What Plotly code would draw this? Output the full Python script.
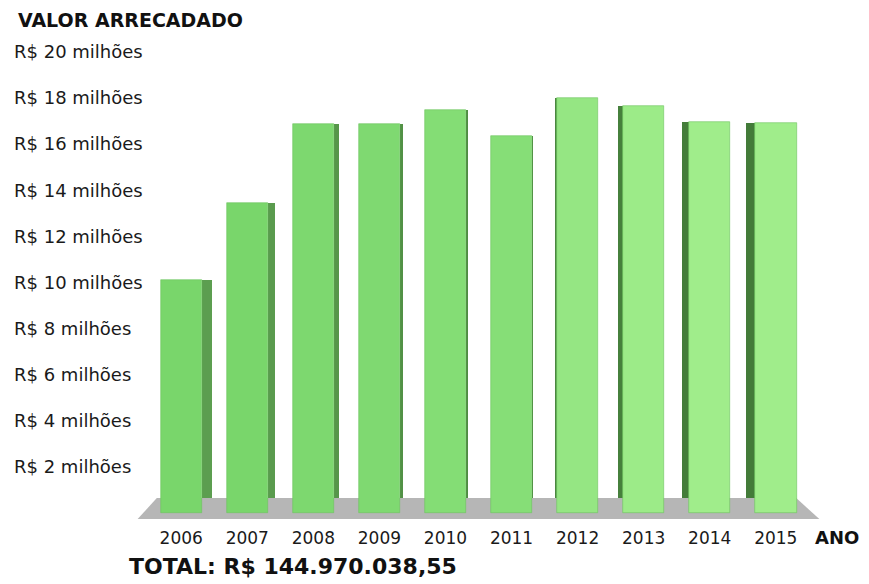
import plotly.graph_objects as go

# ---- data ----
anos = ["2006", "2007", "2008", "2009", "2010", "2011", "2012", "2013", "2014", "2015"]
valores = [10.1, 13.45, 16.85, 16.85, 17.45, 16.35, 18.0, 17.65, 16.95, 16.9]  # R$ milhões
tick_vals = [20, 18, 16, 14, 12, 10, 8, 6, 4, 2]
tick_text = ["R$ 20 milhões", "R$ 18 milhões", "R$ 16 milhões", "R$ 14 milhões",
             "R$ 12 milhões", "R$ 10 milhões", "R$ 8 milhões", "R$ 6 milhões",
             "R$ 4 milhões", "R$ 2 milhões"]
titulo = "VALOR ARRECADADO"
eixo_x = "ANO"
total = "TOTAL: R$ 144.970.038,55"

# ---- styling ----
front_colors = ["#79d66b", "#79d66b", "#7dd86f", "#7fd971", "#84dd75",
                "#86de77", "#95e683", "#9ceb88", "#a0ed8b", "#a0ed8b"]
side_colors = ["#5c9e50", "#5a9b4e", "#56964a", "#529146", "#4f8d43",
               "#4f8d43", "#4a8640", "#46803c", "#447d3a", "#437b39"]
side_w = [0.15, 0.105, 0.075, 0.045, 0.015, 0.0, 0.025, 0.075, 0.105, 0.135]
side_right = [True, True, True, True, True, True, False, False, False, False]
front_w = 0.628
floor_top = 0.65
floor_bot = -0.26

xs = list(range(len(anos)))
side_off = [front_w / 2 if r else -front_w / 2 - w for r, w in zip(side_right, side_w)]
side_h = [v - floor_top for v in valores]

fig = go.Figure()
fig.add_trace(go.Bar(
    x=xs, y=side_h, base=[floor_top] * len(xs), width=side_w, offset=side_off,
    marker=dict(color=side_colors, line=dict(width=0)), hoverinfo="skip", showlegend=False))
fig.add_trace(go.Bar(
    x=xs, y=valores, width=front_w,
    marker=dict(color=front_colors, line=dict(width=0.6, color="#6cc35e")),
    showlegend=False, hovertemplate="%{y} milhões<extra></extra>"))

# floor (grey parallelogram)
fig.add_shape(type="path", xref="x", yref="y", layer="below",
              path=f"M -0.37 {floor_top} L 9.31 {floor_top} L 9.66 {floor_bot} L -0.66 {floor_bot} Z",
              fillcolor="#b6b6b6", line=dict(width=0))

annots = []
for v, t in zip(tick_vals, tick_text):
    annots.append(dict(text=t, x=-0.1793, xref="paper", y=v, yref="y", xanchor="left",
                       yanchor="middle", showarrow=False,
                       font=dict(family="DejaVu Sans", size=18, color="#1a1a1a")))
annots.append(dict(text="<b>" + titulo + "</b>", x=-0.1735, xref="paper", y=1.0407, yref="paper",
                   xanchor="left", yanchor="middle", showarrow=False,
                   font=dict(family="DejaVu Sans", size=19, color="#111111")))
annots.append(dict(text="<b>" + eixo_x + "</b>", x=1.0216, xref="paper", y=-0.0355, yref="paper",
                   xanchor="center", yanchor="middle", showarrow=False,
                   font=dict(family="DejaVu Sans", size=18, color="#111111")))
annots.append(dict(text="<b>" + total + "</b>", x=-0.012, xref="paper", y=-0.0959, yref="paper",
                   xanchor="left", yanchor="middle", showarrow=False,
                   font=dict(family="DejaVu Sans", size=22, color="#111111")))

fig.update_layout(
    width=861, height=576,
    margin=dict(l=127, r=47, t=32, b=64),
    paper_bgcolor="white", plot_bgcolor="white",
    barmode="overlay", bargap=0,
    annotations=annots,
    xaxis=dict(range=[-0.7, 9.7], tickvals=xs, ticktext=anos, showgrid=False, zeroline=False,
               showline=False, ticks="", ticklabelstandoff=6,
               tickfont=dict(family="DejaVu Sans", size=17, color="#1a1a1a")),
    yaxis=dict(range=[-0.3, 20.5], showticklabels=False, showgrid=False, zeroline=False,
               showline=False, ticks=""),
)

fig.write_html("out.html")
